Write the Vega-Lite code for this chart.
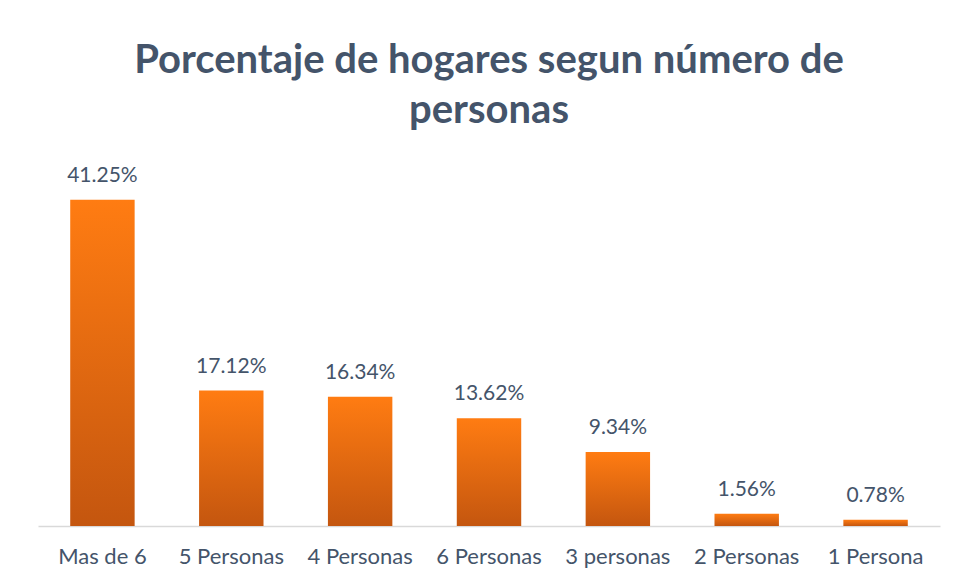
{
  "$schema": "https://vega.github.io/schema/vega-lite/v6.json",
  "autosize": "none",
  "width": 902,
  "height": 356,
  "padding": {"left": 38, "top": 170, "right": 18, "bottom": 57},
  "background": "white",
  "title": {
    "text": ["Porcentaje de hogares segun número de", "personas"],
    "font": "Lato",
    "fontSize": 40,
    "fontWeight": "bold",
    "color": "#44546A",
    "anchor": "middle",
    "lineHeight": 50,
    "offset": 34,
    "frame": "group"
  },
  "data": {
    "values": [
      {"cat": "Mas de 6", "pct": 0.4125},
      {"cat": "5 Personas", "pct": 0.1712},
      {"cat": "4 Personas", "pct": 0.1634},
      {"cat": "6 Personas", "pct": 0.1362},
      {"cat": "3 personas", "pct": 0.0934},
      {"cat": "2 Personas", "pct": 0.0156},
      {"cat": "1 Persona", "pct": 0.0078}
    ]
  },
  "encoding": {
    "x": {
      "field": "cat",
      "type": "nominal",
      "sort": null,
      "scale": {"paddingInner": 0.5, "paddingOuter": 0.25},
      "axis": {
        "title": null,
        "labelAngle": 0,
        "ticks": false,
        "domainColor": "#D9D9D9",
        "domainWidth": 1.5,
        "labelFont": "Lato",
        "labelFontSize": 22,
        "labelColor": "#44546A",
        "labelPadding": 20
      }
    },
    "y": {
      "field": "pct",
      "type": "quantitative",
      "scale": {"domain": [0, 0.45], "nice": false},
      "axis": null
    }
  },
  "layer": [
    {
      "mark": {
        "type": "bar",
        "color": {
          "gradient": "linear",
          "x1": 0, "y1": 0, "x2": 0, "y2": 1,
          "stops": [
            {"offset": 0, "color": "#FF7C12"},
            {"offset": 1, "color": "#C4560F"}
          ]
        }
      }
    },
    {
      "mark": {
        "type": "text",
        "baseline": "bottom",
        "dy": -14,
        "font": "Lato",
        "fontSize": 21,
        "color": "#44546A"
      },
      "encoding": {
        "text": {"field": "pct", "type": "quantitative", "format": ".2%"}
      }
    }
  ],
  "config": {"view": {"stroke": null}}
}
